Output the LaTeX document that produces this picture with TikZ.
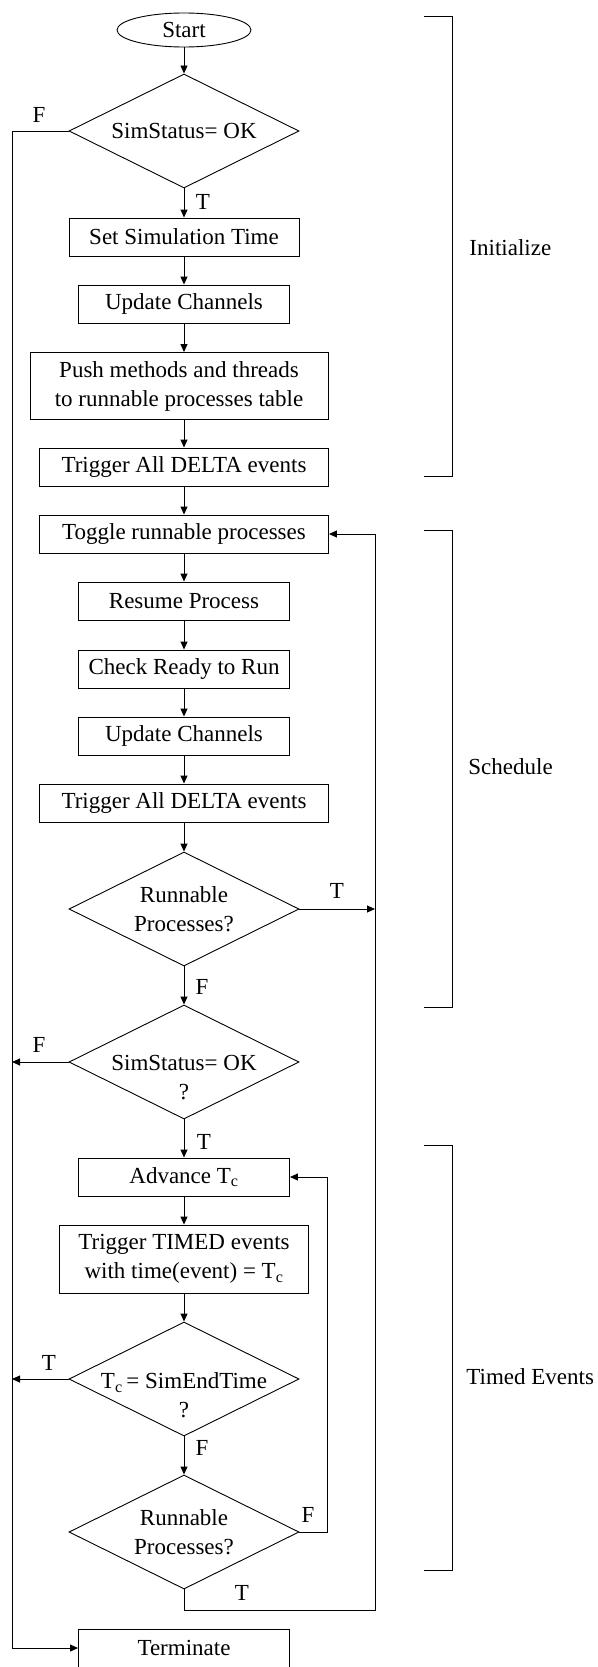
\documentclass[tikz,border=0pt]{standalone}
\usepackage{fontspec}
\setmainfont{Liberation Serif}
\usetikzlibrary{arrows.meta,shapes.geometric}

\begin{document}
\begin{tikzpicture}[
  x=1pt,y=1pt,
  line width=0.9pt,
  >={Triangle[length=8pt,width=7pt]},
  every node/.style={font=\fontsize{23}{29}\selectfont},
  proc/.style={draw,rectangle,minimum height=38pt,inner sep=0pt,align=center},
  decision/.style={draw,diamond,aspect=2,minimum width=230pt,minimum height=114pt,inner sep=0pt,align=center},
  terminal/.style={draw,ellipse,minimum width=134pt,minimum height=34pt,inner sep=0pt},
  qtext/.style={label={[align=center,yshift=-16pt]center:#1}},
  branch/.style={inner sep=0pt},
  phase/.style={anchor=west,inner sep=0pt}
]
  \useasboundingbox (0,0) rectangle (597,-1667);

  % main column
  \node[terminal] (start) at (184,-30) {Start};
  \node[decision] (d1) at (184,-131) {SimStatus= OK};
  \node[proc,minimum width=230pt] (settime) at (184,-237) {Set Simulation Time};
  \node[proc,minimum width=211pt] (upd1) at (184,-304) {Update Channels};
  \node[proc,minimum width=298pt,minimum height=67pt] (push) at (179,-386)
    {Push methods and threads\\to runnable processes table};
  \node[proc,minimum width=289pt] (trig1) at (184,-467) {Trigger All DELTA events};
  \node[proc,minimum width=289pt] (toggle) at (184,-534) {Toggle runnable processes};
  \node[proc,minimum width=211pt] (resume) at (184,-601) {Resume Process};
  \node[proc,minimum width=211pt] (check) at (184,-669) {Check Ready to Run};
  \node[proc,minimum width=211pt] (upd2) at (184,-736) {Update Channels};
  \node[proc,minimum width=289pt] (trig2) at (184,-803) {Trigger All DELTA events};
  \node[decision] (d3) at (184,-909) {Runnable\\Processes?};
  \node[decision,qtext={SimStatus= OK\\?}] (d5) at (184,-1062) {};
  \node[proc,minimum width=211pt] (advance) at (184,-1177) {Advance T\textsubscript{c}};
  \node[proc,minimum width=249pt,minimum height=68pt] (timed) at (184,-1259)
    {Trigger TIMED events\\ with time(event) = T\textsubscript{c}};
  \node[decision,qtext={T\textsubscript{c}\,= SimEndTime\\?}] (d6) at (184,-1379) {};
  \node[decision] (d7) at (184,-1532) {Runnable\\Processes?};
  \node[proc,minimum width=211pt] (term) at (184,-1648) {Terminate};

  % straight flow
  \draw[->] (start) -- (d1);
  \draw[->] (d1) -- (settime);
  \draw[->] (settime) -- (upd1);
  \draw[->] (upd1) -- (upd1 |- push.north);
  \draw[->] (push.south -| trig1) -- (trig1);
  \draw[->] (trig1) -- (toggle);
  \draw[->] (toggle) -- (resume);
  \draw[->] (resume) -- (check);
  \draw[->] (check) -- (upd2);
  \draw[->] (upd2) -- (trig2);
  \draw[->] (trig2) -- (d3);
  \draw[->] (d3) -- (d5);
  \draw[->] (d5) -- (advance);
  \draw[->] (advance) -- (timed);
  \draw[->] (timed) -- (d6);
  \draw[->] (d6) -- (d7);

  % loops
  \coordinate (lbus) at (12,-131);
  \coordinate (rbus) at (375,-1610);
  \coordinate (ibus) at (327,-1532);
  \draw[->] (d1.west) -- (lbus) |- (term.west);
  \draw[->] (d5.west) -- (d5.west -| lbus);
  \draw[->] (d6.west) -- (d6.west -| lbus);
  \draw[->] (d3.east) -- (d3.east -| rbus);
  \draw[->] (d7.south) |- (rbus) |- (toggle.east);
  \draw[->] (d7.east) -- (ibus) |- (advance.east);

  % branch labels
  \node[branch] (f1) at (39,-115) {F};
  \node[branch] (t1) at (203,-202) {T};
  \node[branch] (t3) at (337,-891) {T};
  \node[branch] (f3) at (202,-987) {F};
  \node[branch] (f5) at (39,-1045) {F};
  \node[branch] (t5) at (204,-1142) {T};
  \node[branch] (t6) at (49,-1363) {T};
  \node[branch] (f6) at (202,-1448) {F};
  \node[branch] (f7) at (308,-1515) {F};
  \node[branch] (t7) at (242,-1593) {T};

  % phases
  \draw (424,-16) -| (452,-476) -- (424,-476);
  \node[phase] (init) at (469,-248) {Initialize};
  \draw (424,-530) -| (452,-1007) -- (424,-1007);
  \node[phase] (sched) at (468,-767) {Schedule};
  \draw (424,-1145) -| (452,-1570) -- (424,-1570);
  \node[phase] (tev) at (466,-1377) {Timed Events};
\end{tikzpicture}
\end{document}
